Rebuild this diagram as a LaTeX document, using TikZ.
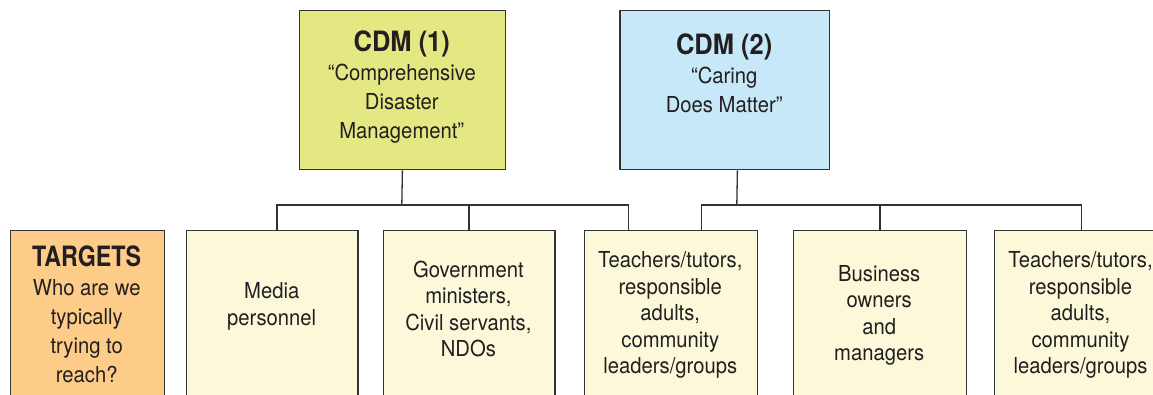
\documentclass[tikz,border=0pt]{standalone}
\usepackage{fontspec}
\setmainfont{TeX Gyre Heros}[FakeStretch=0.92]
\newfontfamily\hdfont{TeX Gyre Heros}[FakeStretch=0.83]
\newfontfamily\cdmfont{TeX Gyre Heros}[FakeStretch=0.91]
\definecolor{cdmA}{HTML}{E4E883}
\definecolor{cdmB}{HTML}{C6E8F8}
\definecolor{targ}{HTML}{FDCC89}
\definecolor{cream}{HTML}{FBF9DA}
\definecolor{linec}{HTML}{333333}
\definecolor{textc}{HTML}{231F20}
\newcommand{\hd}[1]{{\hdfont\bfseries\fontsize{28}{29}\selectfont #1}}
\newcommand{\cdmhd}[1]{{\cdmfont\bfseries\fontsize{28}{29}\selectfont #1}}
\begin{document}
\begin{tikzpicture}[x=1pt,y=-1pt,
  box/.style={draw=linec, line width=1.3pt, inner sep=0pt, anchor=north west},
  conn/.style={draw=linec, line width=1.3pt},
  txt/.style={align=center, inner sep=0pt, text=textc, font=\fontsize{22}{26.5}\selectfont},
  hdl/.style={font=\fontsize{22}{29}\selectfont}]
\useasboundingbox (0,0) rectangle (1153,395);
\clip (0,0) rectangle (1153,395);
% boxes
\node[box, fill=cdmA, minimum width=206.5pt, minimum height=159pt] (cdm1) at (298.5,10) {};
\node[box, fill=cdmB, minimum width=209.7pt, minimum height=159pt] (cdm2) at (619.3,10) {};
\node[box, fill=targ, minimum width=154.2pt, minimum height=180pt] (targ) at (9.6,230) {};
\node[box, fill=cream, minimum width=171.4pt, minimum height=180pt] (media) at (186,230) {};
\node[box, fill=cream, minimum width=171.5pt, minimum height=180pt] (gov) at (382.7,230) {};
\node[box, fill=cream, minimum width=173.3pt, minimum height=180pt] (teach1) at (583.7,230) {};
\node[box, fill=cream, minimum width=173pt, minimum height=180pt] (bus) at (792.7,230) {};
\node[box, fill=cream, minimum width=173pt, minimum height=180pt] (teach2) at (994,230) {};
% connectors
\coordinate (j1) at (401.8,205);
\coordinate (j2) at (736.8,205);
\draw[conn] (cdm1.south) -- (j1);
\draw[conn] ([xshift=4.6pt]media.north) |- (j1) -| ([xshift=-42.3pt]teach1.north);
\draw[conn] (gov.north) -- (gov.north |- j1);
\draw[conn] ([xshift=12.6pt]cdm2.south) -- (j2);
\draw[conn] ([xshift=30.2pt]teach1.north) |- (j2) -| (teach2.north);
\draw[conn] (bus.north) -- (bus.north |- j2);
% texts
\node[txt, hdl] (t1) at (401.8,87) {\cdmhd{CDM (1)}\\“Comprehensive\\Disaster\\Management”};
\node[txt, hdl] (t2) at (724.2,73.5) {\cdmhd{CDM (2)}\\“Caring\\Does Matter”};
\node[txt, hdl] (tt) at (86.7,314) {\hd{TARGETS}\\Who are we\\typically\\trying to\\reach?};
\node[txt, font=\fontsize{22}{27}\selectfont] (tm) at (271.7,306) {Media\\personnel};
\node[txt] (tg) at (468.4,309) {Government\\ministers,\\Civil servants,\\NDOs};
\node[txt] (tc1) at (670.3,315) {Teachers/tutors,\\responsible\\adults,\\community\\leaders/groups};
\node[txt] (tb) at (879.2,315.5) {Business\\owners\\and\\managers};
\node[txt] (tc2) at (1080.5,315) {Teachers/tutors,\\responsible\\adults,\\community\\leaders/groups};
\end{tikzpicture}
\end{document}
